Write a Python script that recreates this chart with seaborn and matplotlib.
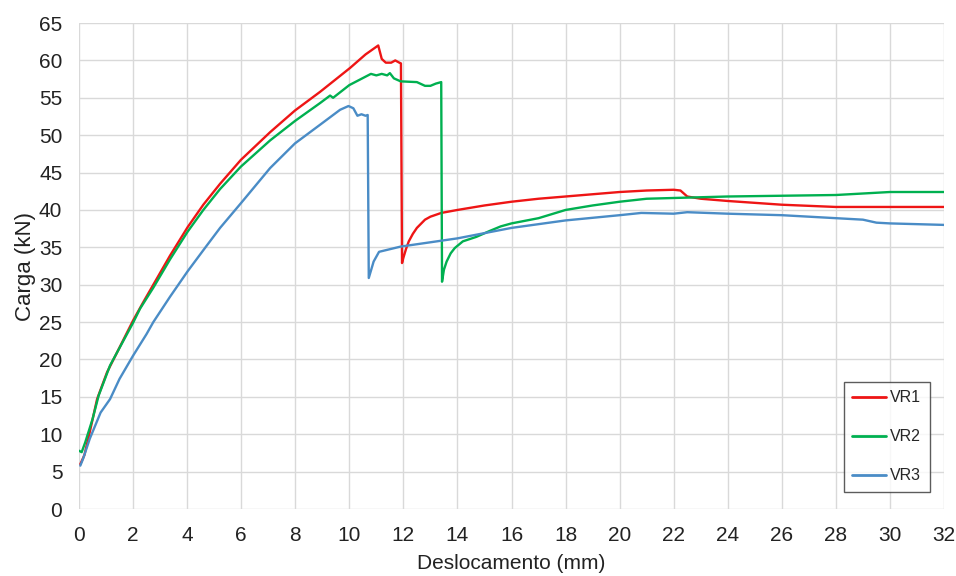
import numpy as np
import pandas as pd
import matplotlib
matplotlib.use("Agg")
import matplotlib.pyplot as plt
import seaborn as sns

# Values (displacement in mm, load in kN)
vr1_x = [0.05, 0.2, 0.4, 0.67, 1.04, 1.5, 2.0, 2.4, 2.75, 3.37, 4.02, 4.6, 5.22, 5.99,
         7.07, 7.99, 8.92, 10.03, 10.6, 11.07, 11.2, 11.35, 11.55, 11.7, 11.85, 11.91,
         11.95, 12.0, 12.1, 12.2, 12.35, 12.5, 12.8, 13.0, 13.4, 13.7, 14.0, 15.0, 16.0,
         17.0, 18.0, 19.0, 20.0, 21.0, 22.0, 22.25, 22.5, 23.0, 24.0, 26.0, 28.0, 30.0, 32.0]
vr1_y = [6.0, 7.2, 10.3, 14.7, 18.3, 21.6, 25.2, 27.8, 30.0, 33.9, 37.7, 40.7, 43.5, 46.7,
         50.4, 53.3, 55.8, 59.0, 60.8, 62.0, 60.2, 59.7, 59.7, 60.0, 59.7, 59.6,
         32.9, 33.6, 34.8, 35.8, 36.8, 37.6, 38.7, 39.1, 39.6, 39.8, 40.0, 40.6, 41.1,
         41.5, 41.8, 42.1, 42.4, 42.6, 42.7, 42.6, 41.8, 41.5, 41.2, 40.7, 40.4, 40.4, 40.4]

vr2_x = [0.0, 0.1, 0.23, 0.5, 0.73, 1.15, 2.0, 2.26, 2.75, 3.37, 4.02, 4.6, 5.22, 5.99,
         7.07, 7.99, 8.92, 9.29, 9.4, 10.0, 10.8, 11.0, 11.2, 11.4, 11.5, 11.65, 11.9,
         12.5, 12.8, 13.0, 13.2, 13.4, 13.43, 13.5, 13.6, 13.75, 13.9, 14.2, 14.7, 15.2,
         15.6, 16.0, 17.0, 18.0, 19.0, 20.0, 21.0, 22.0, 24.0, 26.0, 28.0, 30.0, 32.0]
vr2_y = [7.8, 7.6, 8.9, 12.0, 15.2, 19.2, 24.9, 26.8, 29.6, 33.4, 37.1, 40.0, 42.8, 45.8,
         49.3, 51.9, 54.3, 55.3, 55.0, 56.7, 58.2, 58.0, 58.2, 58.0, 58.3, 57.6, 57.2,
         57.1, 56.6, 56.6, 56.9, 57.1, 30.4, 32.0, 33.1, 34.2, 34.9, 35.8, 36.4, 37.2,
         37.8, 38.2, 38.9, 40.0, 40.6, 41.1, 41.5, 41.6, 41.8, 41.9, 42.0, 42.4, 42.4]

vr3_x = [0.05, 0.15, 0.4, 0.8, 1.15, 1.5, 2.0, 2.5, 2.75, 3.37, 4.02, 4.72, 5.22, 5.99,
         7.07, 7.99, 8.92, 9.66, 9.97, 10.15, 10.3, 10.45, 10.6, 10.68, 10.72, 10.9, 11.1,
         11.9, 14.0, 16.0, 18.0, 20.0, 20.8, 22.0, 22.5, 24.0, 26.0, 28.0, 29.0, 29.5,
         30.0, 32.0]
vr3_y = [5.8, 6.7, 9.4, 12.9, 14.7, 17.4, 20.5, 23.4, 25.0, 28.4, 31.8, 35.2, 37.6, 40.9,
         45.6, 48.9, 51.4, 53.4, 53.9, 53.6, 52.6, 52.8, 52.6, 52.7, 30.9, 33.1, 34.4,
         35.1, 36.2, 37.6, 38.6, 39.3, 39.6, 39.5, 39.7, 39.5, 39.3, 38.9, 38.7, 38.3,
         38.2, 38.0]

series = ["VR1", "VR2", "VR3"]
colors = ["#EE1515", "#00B050", "#4A8CC6"]
x_ticks = list(range(0, 33, 2))
y_ticks = list(range(0, 66, 5))

# long format table for seaborn
df = pd.concat([
    pd.DataFrame({"x": vr1_x, "y": vr1_y, "serie": "VR1"}),
    pd.DataFrame({"x": vr2_x, "y": vr2_y, "serie": "VR2"}),
    pd.DataFrame({"x": vr3_x, "y": vr3_y, "serie": "VR3"}),
], ignore_index=True)

sns.set_theme(style="white")
plt.rcParams["font.family"] = ["Liberation Sans", "DejaVu Sans"]

fig = plt.figure(figsize=(9.56, 5.76), dpi=100)
ax = fig.add_axes([0.0826, 0.1163, 0.9049, 0.8437])

sns.lineplot(data=df, x="x", y="y", hue="serie", hue_order=series,
             palette=dict(zip(series, colors)), sort=False, estimator=None,
             linewidth=1.7, ax=ax)

ax.set_xlim(0, 32)
ax.set_ylim(0, 65)
ax.set_xticks(x_ticks)
ax.set_yticks(y_ticks)
ax.grid(True, color="#d9d9d9", linewidth=1.0)
ax.set_axisbelow(True)
for s in ax.spines.values():
    s.set_visible(False)
ax.tick_params(axis="both", length=0, labelsize=15, colors="#222222", pad=12)

ax.set_xlabel("Deslocamento (mm)", fontsize=15, color="#222222", labelpad=7)
ax.set_ylabel("Carga (kN)", fontsize=16, color="#222222", labelpad=2)

leg = ax.legend(loc="lower left", bbox_to_anchor=(0.884, 0.035), borderaxespad=0,
                fontsize=11.5, frameon=True, fancybox=False, labelspacing=1.5,
                handlelength=2.1, handletextpad=0.25, borderpad=0.55)
leg.get_frame().set_edgecolor("#333333")
leg.get_frame().set_linewidth(1.0)
for line in leg.get_lines():
    line.set_linewidth(2.0)

fig.savefig("out.png", dpi=100)
